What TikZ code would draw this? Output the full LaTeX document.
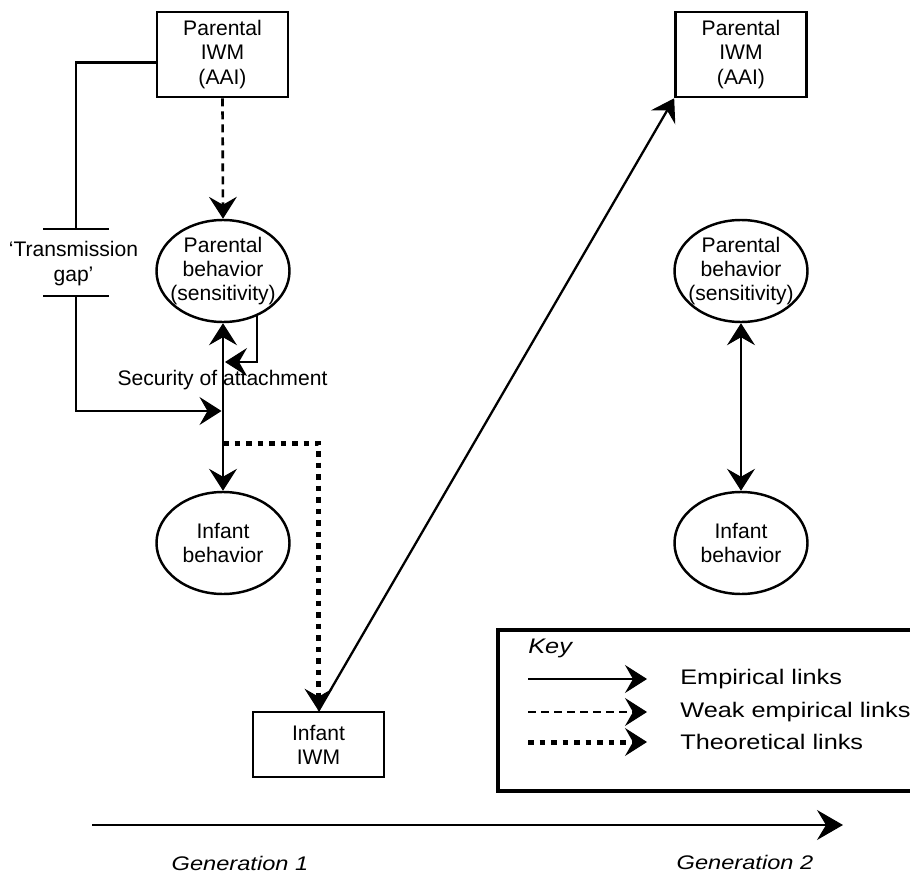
\documentclass[tikz,border=0pt]{standalone}
\usepackage{fontspec}
\setmainfont{Liberation Sans}
\newfontfamily\keyfont[FakeStretch=1.2]{Liberation Sans}
\usetikzlibrary{arrows.meta,shapes.geometric,calc}

\begin{document}
\begin{tikzpicture}[
  model/.style={rectangle, draw, line width=1.5pt, minimum width=2.62cm, align=center, font=\fontsize{12}{13.8}\selectfont},
  behav/.style={ellipse, draw, line width=1.4pt, minimum width=2.66cm, minimum height=2.04cm, inner xsep=-2.5mm, inner ysep=-1mm, align=center, font=\fontsize{12}{13.4}\selectfont},
  link/.style={-{Stealth[length=4.4mm, width=5.6mm, inset=1.6mm, line width=0.6pt]}, line width=1.3pt},
  both/.style={{Stealth[length=4.4mm, width=5.6mm, inset=1.6mm, line width=0.6pt]}-{Stealth[length=4.4mm, width=5.6mm, inset=1.6mm, line width=0.6pt]}, line width=1.3pt},
  weak/.style={link, line width=1.5pt, dash pattern=on 1.6mm off 1mm},
  theo/.style={link, line width=1mm, dash pattern=on 1.1mm off 1.2mm},
  lbl/.style={font=\fontsize{12}{13.8}\selectfont, align=center},
  keytxt/.style={font=\keyfont\fontsize{12}{14}\selectfont, anchor=west, inner sep=0pt},
]
  \useasboundingbox (0,0) rectangle (18.2,-17.52);

  % generation 1
  \node[model, minimum height=1.7cm] (piwmA) at (4.45,-1.09) {Parental\\IWM\\(AAI)};
  \node[behav] (pbehA) at (4.46,-5.42) {Parental\\behavior\\(sensitivity)};
  \node[behav] (ibehA) at (4.46,-10.86) {Infant\\behavior};
  \node[model, minimum height=1.3cm] (iiwm) at (6.37,-14.89) {Infant\\IWM};
  \node[lbl] (secur) at (4.45,-7.60) {Security of attachment};
  \node[lbl] (gap) at (1.47,-5.27) {`Transmission\\gap'};

  \coordinate (gapT) at (1.52,-4.58);
  \coordinate (gapB) at (1.52,-5.92);
  \coordinate (fback) at (4.50,-7.24);
  \coordinate (trin) at (4.43,-8.22);
  \coordinate (theo0) at (4.46,-8.86);

  \draw[weak] (piwmA.south) -- (pbehA.north);
  \draw[both] (pbehA.south) -- (ibehA.north);
  \draw[link] (pbehA.-53) |- (fback);
  \draw[line width=1.3pt] ([yshift=-0.16cm]piwmA.west) -| (gapT);
  \draw[line width=1.3pt] ($(gapT)+(-0.66,0)$) -- ($(gapT)+(0.66,0)$);
  \draw[line width=1.3pt] ($(gapB)+(-0.66,0)$) -- ($(gapB)+(0.66,0)$);
  \draw[link] (gapB) |- (trin);
  \draw[theo] (theo0) -| (iiwm.north);

  % generation 2
  \node[model, minimum height=1.7cm] (piwmB) at (14.82,-1.09) {Parental\\IWM\\(AAI)};
  \node[behav] (pbehB) at (14.82,-5.42) {Parental\\behavior\\(sensitivity)};
  \node[behav] (ibehB) at (14.82,-10.86) {Infant\\behavior};

  \draw[link] (iiwm.north) -- (piwmB.south west);
  \draw[both] (pbehB.south) -- (ibehB.north);

  % key
  \draw[line width=2.6pt] (18.5,-12.60) -| (9.96,-15.82) -- (18.5,-15.82);
  \node[keytxt, font=\keyfont\fontsize{12}{14}\selectfont\itshape] (keyttl) at (10.56,-12.96) {Key};
  \node[keytxt] (lemp) at (13.6,-13.58) {Empirical links};
  \node[keytxt] (lweak) at (13.6,-14.24) {Weak empirical links};
  \node[keytxt] (ltheo) at (13.6,-14.84) {Theoretical links};
  \draw[link] ($(lemp.west)+(-3.04,0)$) -- ($(lemp.west)+(-0.66,0)$);
  \draw[weak] ($(lweak.west)+(-3.04,0)$) -- ($(lweak.west)+(-0.66,0)$);
  \draw[theo] ($(ltheo.west)+(-3.04,0)$) -- ($(ltheo.west)+(-0.66,0)$);

  % time axis
  \coordinate (genL) at (1.84,-16.50);
  \coordinate (genR) at (16.86,-16.50);
  \draw[-{Stealth[length=5.2mm, width=6mm, inset=1.8mm, line width=0.6pt]}, line width=1.6pt] (genL) -- (genR);
  \node[font=\keyfont\fontsize{11.2}{13}\selectfont\itshape] (gen1) at (4.80,-17.26) {Generation 1};
  \node[font=\keyfont\fontsize{11.2}{13}\selectfont\itshape] (gen2) at (14.90,-17.24) {Generation 2};
\end{tikzpicture}
\end{document}
